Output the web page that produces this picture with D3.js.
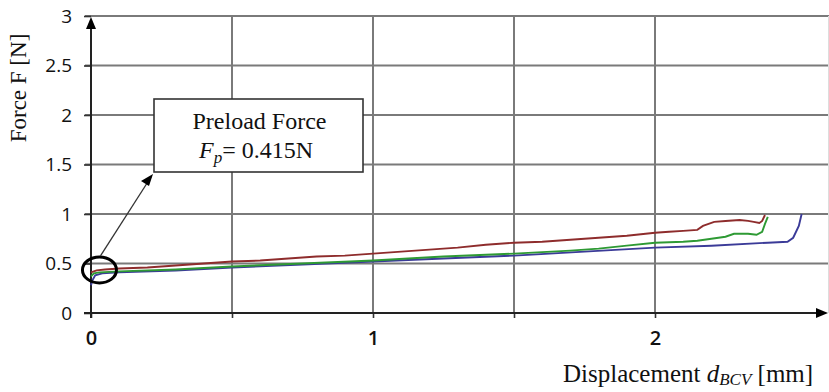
<!DOCTYPE html>
<html><head><meta charset="utf-8">
<script src="https://cdn.jsdelivr.net/npm/d3@7"></script>
<style>
html,body{margin:0;padding:0;background:#fff;}
svg{display:block;}
</style>
</head><body>
<svg id="chart" width="829" height="392"></svg>
<script>
// ---------- data ----------
const xTicks = [0, 0.5, 1, 1.5, 2];
const xTickLabels = ["0", "", "1", "", "2"];
const yTicks = [0, 0.5, 1, 1.5, 2, 2.5, 3];
const yTickLabels = ["0", "0.5", "1", "1.5", "2", "2.5", "3"];

const redX = [0.00,0.02,0.05,0.10,0.20,0.30,0.40,0.50,0.60,0.70,0.80,0.90,1.00,1.10,1.20,1.30,1.40,1.50,1.60,1.70,1.80,1.90,2.00,2.05,2.10,2.15,2.17,2.19,2.21,2.25,2.30,2.33,2.35,2.37,2.38,2.39];
const redF = [0.41,0.43,0.44,0.45,0.46,0.48,0.50,0.52,0.53,0.55,0.57,0.58,0.60,0.62,0.64,0.66,0.69,0.71,0.72,0.74,0.76,0.78,0.81,0.82,0.83,0.84,0.88,0.90,0.92,0.93,0.94,0.93,0.92,0.91,0.93,0.99];

const greenX = [0.00,0.01,0.03,0.10,0.30,0.50,0.75,1.00,1.25,1.50,1.70,1.80,1.90,2.00,2.10,2.15,2.20,2.25,2.28,2.33,2.36,2.38,2.39,2.40];
const greenF = [0.37,0.40,0.41,0.42,0.44,0.47,0.50,0.53,0.57,0.60,0.63,0.65,0.68,0.71,0.72,0.73,0.75,0.77,0.80,0.80,0.79,0.82,0.90,0.97];

const blueX = [0.00,0.005,0.015,0.04,0.10,0.30,0.50,0.75,1.00,1.25,1.50,1.75,2.00,2.20,2.40,2.47,2.49,2.51,2.52];
const blueF = [0.28,0.33,0.38,0.40,0.41,0.43,0.46,0.49,0.52,0.55,0.58,0.62,0.66,0.68,0.71,0.72,0.76,0.88,1.00];

const preload = 0.415;

// ---------- layout ----------
const svg = d3.select("#chart");
const x = d3.scaleLinear().domain([0, 2.6]).range([91, 91 + 2.6 * 282]);
const y = d3.scaleLinear().domain([0, 3]).range([313, 16]);
const gridRight = 829;

// gridlines
svg.append("g").selectAll("line.h").data(yTicks.filter(d => d > 0)).join("line")
  .attr("x1", 85).attr("x2", gridRight)
  .attr("y1", d => y(d)).attr("y2", d => y(d))
  .attr("stroke", "#7a7a7a").attr("stroke-width", 2);
svg.append("g").selectAll("line.v").data(xTicks.filter(d => d > 0)).join("line")
  .attr("x1", d => x(d)).attr("x2", d => x(d))
  .attr("y1", y(0)).attr("y2", y(3))
  .attr("stroke", "#7a7a7a").attr("stroke-width", 2);
svg.append("line").attr("x1", gridRight - 0.5).attr("x2", gridRight - 0.5)
  .attr("y1", y(3)).attr("y2", y(0)).attr("stroke", "#ddd").attr("stroke-width", 1);

// y axis
const yAxis = d3.axisLeft(y).tickValues(yTicks)
  .tickFormat((d, i) => yTickLabels[i]).tickSize(7).tickPadding(12);
const gy = svg.append("g").attr("transform", `translate(${x(0)},0)`).call(yAxis);
gy.select(".domain").remove();
gy.selectAll(".tick line").attr("stroke", "#333").attr("stroke-width", 1.6);
gy.selectAll(".tick text").attr("font-family", "'Open Sans', sans-serif")
  .attr("font-size", 19).attr("font-weight", 500).attr("fill", "#111");

// x axis
const xAxis = d3.axisBottom(x).tickValues(xTicks)
  .tickFormat((d, i) => xTickLabels[i]).tickSize(5).tickPadding(13);
const gx = svg.append("g").attr("transform", `translate(0,${y(0)})`).call(xAxis);
gx.select(".domain").remove();
gx.selectAll(".tick line").attr("stroke", "#333").attr("stroke-width", 1.6);
gx.selectAll(".tick text").attr("font-family", "'Open Sans', sans-serif")
  .attr("font-size", 20).attr("font-weight", 600).attr("fill", "#111");

// axis lines with arrows
svg.append("line").attr("x1", x(0)).attr("x2", x(0)).attr("y1", y(0) + 5).attr("y2", y(3) + 8)
  .attr("stroke", "#222").attr("stroke-width", 2);
svg.append("path").attr("d", `M${x(0)},${y(3) + 1} L${x(0) - 5},${y(3) + 13} L${x(0) + 5},${y(3) + 13} Z`).attr("fill", "#000");
svg.append("line").attr("x1", x(0) - 7).attr("x2", 820).attr("y1", y(0)).attr("y2", y(0))
  .attr("stroke", "#222").attr("stroke-width", 2);
svg.append("path").attr("d", `M828,${y(0)} L816,${y(0) - 5} L816,${y(0) + 5} Z`).attr("fill", "#000");

// series
const line = d3.line().x(d => x(d[0])).y(d => y(d[1]));
const series = [
  {xs: blueX, fs: blueF, color: "#3b3b98"},
  {xs: greenX, fs: greenF, color: "#2e9a34"},
  {xs: redX, fs: redF, color: "#8e2c2c"}
];
series.forEach(s => {
  svg.append("path").datum(s.xs.map((v, i) => [v, s.fs[i]]))
    .attr("d", line).attr("fill", "none")
    .attr("stroke", s.color).attr("stroke-width", 1.9);
});

// annotation
const cx = x(0.03), cy = y(preload + 0.02);
svg.append("ellipse").attr("cx", cx).attr("cy", cy).attr("rx", 17).attr("ry", 13)
  .attr("fill", "none").attr("stroke", "#000").attr("stroke-width", 3);
const bx0 = 154, bx1 = 363, by0 = 99, by1 = 172;
svg.append("line").attr("x1", cx + 1).attr("y1", cy - 14).attr("x2", bx0 - 3).attr("y2", by1 + 5)
  .attr("stroke", "#333").attr("stroke-width", 1.3);
svg.append("path").attr("d", `M${bx0 - 1},${by1 + 2} L${bx0 - 5},${by1 + 14} L${bx0 - 13},${by1 + 9} Z`).attr("fill", "#000");
svg.append("rect").attr("x", bx0).attr("y", by0).attr("width", bx1 - bx0).attr("height", by1 - by0)
  .attr("fill", "#fff").attr("stroke", "#333").attr("stroke-width", 1.6);
svg.append("text").attr("x", (bx0 + bx1) / 2 + 1).attr("y", 129).attr("text-anchor", "middle")
  .attr("font-family", "'Liberation Serif', 'Times New Roman', serif").attr("font-size", 24).attr("fill", "#111")
  .text("Preload Force");
const t2 = svg.append("text").attr("x", 199).attr("y", 158)
  .attr("font-family", "'Liberation Serif', 'Times New Roman', serif").attr("font-size", 24).attr("fill", "#111");
t2.append("tspan").attr("font-style", "italic").text("F");
t2.append("tspan").attr("font-style", "italic").attr("font-size", 17).attr("dy", 5).text("p");
t2.append("tspan").attr("dy", -5).text("= " + preload + "N");

// axis titles
const xt = svg.append("text").attr("x", 563).attr("y", 382)
  .attr("font-family", "'Liberation Serif', 'Times New Roman', serif").attr("font-size", 25).attr("fill", "#111");
xt.append("tspan").text("Displacement ");
xt.append("tspan").attr("font-style", "italic").text("d");
xt.append("tspan").attr("font-style", "italic").attr("font-size", 17).attr("dy", 3).text("BCV");
xt.append("tspan").attr("dy", -3).text(" [mm]");

svg.append("text").attr("transform", "translate(26,88) rotate(-90)").attr("text-anchor", "middle")
  .attr("font-family", "'Liberation Serif', 'Times New Roman', serif").attr("font-size", 23).attr("fill", "#111")
  .text("Force F [N]");
</script>
</body></html>
